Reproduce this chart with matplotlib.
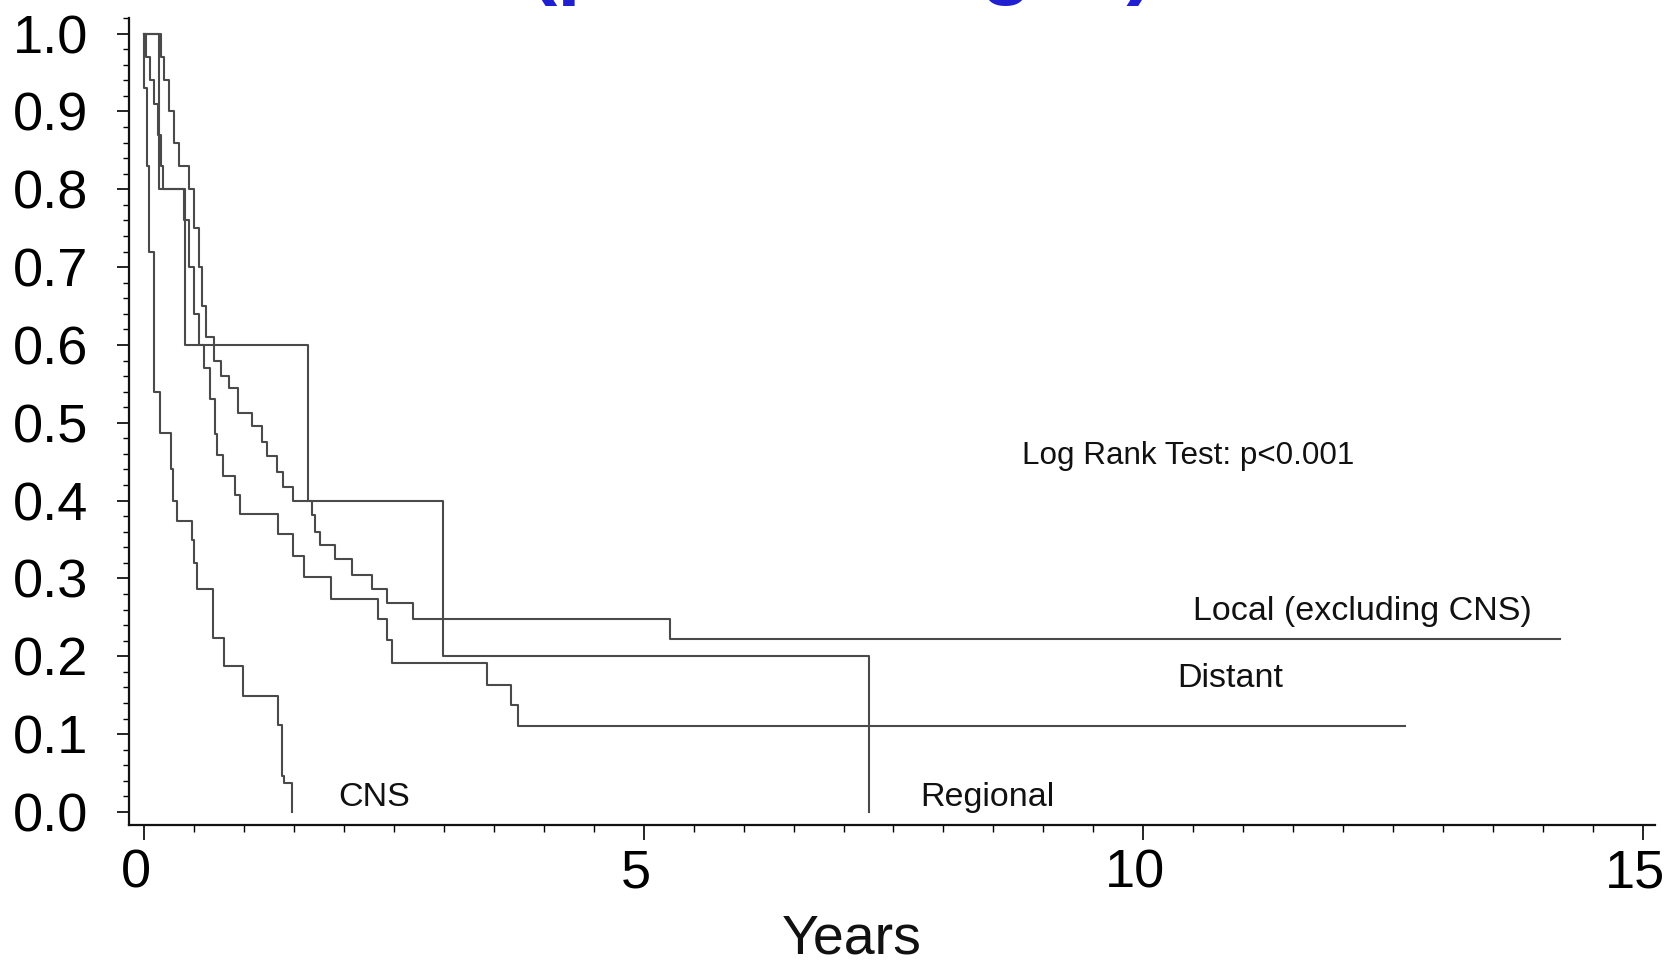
import matplotlib
matplotlib.use("Agg")
import matplotlib.pyplot as plt
import matplotlib.transforms as mtransforms
from matplotlib.transforms import Bbox
from matplotlib.ticker import MultipleLocator, FormatStrFormatter

plt.rcParams['font.family'] = ['Liberation Sans', 'DejaVu Sans']

# ---- data: step times (years) and survival after each step ----
cns_t = [0.00, 0.00, 0.03, 0.05, 0.10, 0.16, 0.27, 0.29, 0.33, 0.48, 0.50, 0.53, 0.69, 0.80, 0.99, 1.34, 1.38, 1.40, 1.48]
cns_s = [1.00, 0.93, 0.83, 0.72, 0.54, 0.487, 0.44, 0.40, 0.374, 0.35, 0.32, 0.287, 0.224, 0.187, 0.149, 0.112, 0.046, 0.037, 0.0]

regional_t = [0.00, 0.15, 0.41, 1.64, 2.99, 7.25]
regional_s = [1.00, 0.80, 0.60, 0.40, 0.20, 0.00]

distant_t = [0.00, 0.02, 0.06, 0.10, 0.14, 0.17, 0.19, 0.40, 0.45, 0.50, 0.55, 0.60, 0.66, 0.71, 0.73, 0.79,
             0.91, 0.96, 1.34, 1.49, 1.60, 1.87, 2.34, 2.43, 2.48, 3.43, 3.67, 3.74, 12.62]
distant_s = [1.00, 0.97, 0.94, 0.91, 0.87, 0.83, 0.80, 0.76, 0.70, 0.64, 0.60, 0.57, 0.53, 0.485, 0.459, 0.432,
             0.407, 0.383, 0.357, 0.329, 0.302, 0.273, 0.248, 0.221, 0.192, 0.163, 0.137, 0.11, 0.11]

local_t = [0.00, 0.17, 0.20, 0.25, 0.30, 0.35, 0.45, 0.50, 0.55, 0.58, 0.62, 0.70, 0.77, 0.85, 0.94, 1.08, 1.18,
           1.23, 1.33, 1.39, 1.49, 1.68, 1.71, 1.76, 1.91, 2.08, 2.28, 2.43, 2.69, 5.26, 14.17]
local_s = [1.00, 0.97, 0.94, 0.90, 0.86, 0.83, 0.80, 0.75, 0.70, 0.65, 0.61, 0.58, 0.56, 0.545, 0.512, 0.496, 0.475,
           0.457, 0.437, 0.418, 0.40, 0.382, 0.36, 0.343, 0.325, 0.305, 0.287, 0.268, 0.248, 0.222, 0.222]

curve_labels = ["Local (excluding CNS)", "Distant", "Regional", "CNS"]
label_t = [10.50, 10.34, 7.77, 1.94]
label_s = [0.258, 0.172, 0.018, 0.019]

x_ticks = [0, 5, 10, 15]
y_ticks = [0.0, 0.1, 0.2, 0.3, 0.4, 0.5, 0.6, 0.7, 0.8, 0.9, 1.0]

W, H = 1681, 966          # final picture size
EXTRA = 120               # hidden strip above the picture (cropped away on save)
HT = H + EXTRA
fig = plt.figure(figsize=(W / 100, HT / 100), dpi=100)


def fy(px_from_top):
    """figure fraction for a pixel row measured from the top of the final picture"""
    return 1 - (px_from_top + EXTRA) / HT


ax = fig.add_axes([129 / W, fy(825), (1655 - 129) / W, (825 - 18) / HT])

line_kw = dict(where='post', color='#4a4a4a', lw=1.5)
for t, s in [(cns_t, cns_s), (regional_t, regional_s), (distant_t, distant_s), (local_t, local_s)]:
    ax.step(t, s, **line_kw)

ax.set_xlim(-0.15, 15.12)
ax.set_ylim(-0.0167, 1.02)
for sp in ['top', 'right']:
    ax.spines[sp].set_visible(False)
for sp in ['left', 'bottom']:
    ax.spines[sp].set_linewidth(1.6)
    ax.spines[sp].set_color('#111111')

ax.set_xticks(x_ticks)
ax.set_yticks(y_ticks)
ax.yaxis.set_major_formatter(FormatStrFormatter('%.1f'))
ax.xaxis.set_minor_locator(MultipleLocator(0.5))
ax.yaxis.set_minor_locator(MultipleLocator(0.02))
ax.tick_params(axis='x', which='major', direction='out', length=11, width=1.2, labelsize=39, pad=6)
ax.tick_params(axis='x', which='minor', direction='out', length=5, width=1.0)
ax.tick_params(axis='y', which='major', direction='out', length=9, width=1.2, labelsize=39, pad=20)
ax.tick_params(axis='y', which='minor', direction='out', length=4, width=1.0)

# x tick labels sit slightly left of their ticks in the reference
shift = mtransforms.ScaledTranslation(-8 / 100, 0, fig.dpi_scale_trans)
for lbl in ax.get_xticklabels():
    lbl.set_transform(lbl.get_transform() + shift)

for lab, tx, sy in zip(curve_labels, label_t, label_s):
    ax.text(tx, sy, lab, fontsize=24.5, ha='left', va='center', color='#111111')

ax.text(8.79, 0.457, "Log Rank Test: p<0.001", fontsize=22.6, ha='left', va='center', color='#111111')

fig.text(852 / W, fy(940), "Years", fontsize=40, ha='center', va='center', color='#111111')

# slide title: only the lowest few pixels of its descenders show below the top edge
fig.text(529 / W, fy(6), "(pediatric ages)", fontsize=61, fontweight='bold',
         color='#2020d0', ha='left', va='bottom')

fig.savefig("out.png", dpi=100, facecolor='white',
            bbox_inches=Bbox([[0, 0], [W / 100, H / 100]]))
